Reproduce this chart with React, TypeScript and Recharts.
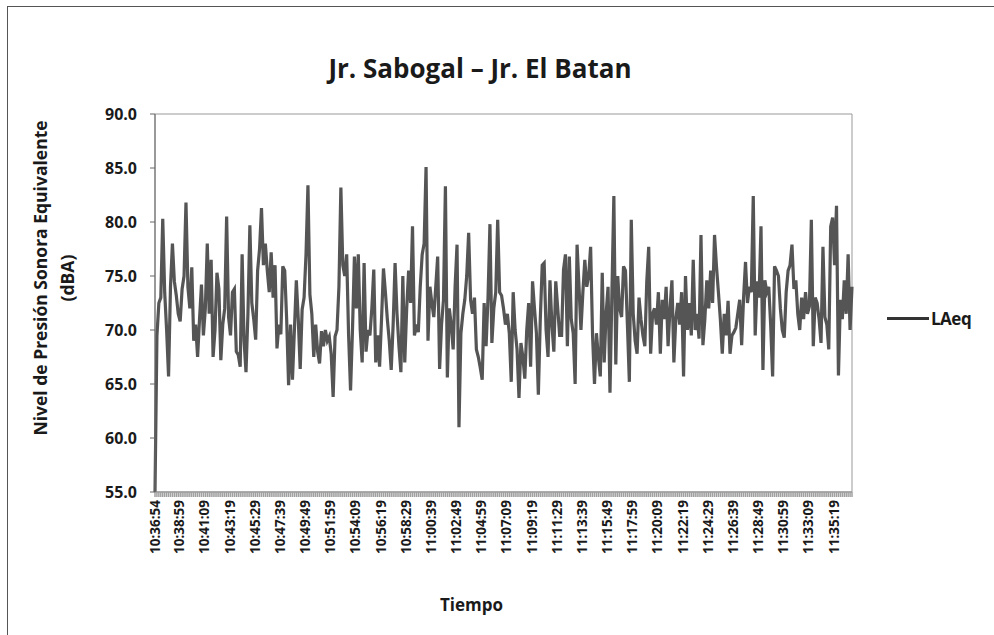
import {
  LineChart,
  Line,
  XAxis,
  YAxis,
  Legend,
  ReferenceArea,
} from "recharts";

// LAeq every 10 s
const START = "10:36:54";
const STEP_S = 10;

const LAEQ = [
  55.0, 69.5, 72.5, 73.0, 80.3, 73.5, 70.0, 65.7, 74.0, 78.0,
  74.5, 73.2, 71.5, 70.8, 73.8, 75.0, 81.8, 74.0, 72.0, 75.8,
  69.0, 70.5, 67.5, 71.0, 74.2, 69.5, 72.0, 78.0, 71.5, 76.5,
  67.5, 70.0, 75.3, 73.8, 67.2, 70.5, 72.0, 80.5, 71.2, 69.5,
  73.5, 73.8, 68.0, 67.7, 66.6, 77.0, 69.0, 66.1, 71.5, 79.7,
  72.5, 71.0, 69.1, 75.5, 77.5, 81.3, 76.0, 78.0, 75.5, 73.5,
  77.2, 73.0, 76.0, 68.3, 70.5, 69.6, 75.9, 75.5, 71.0, 64.9,
  70.5, 65.4, 70.0, 74.6, 71.0, 66.4, 71.9, 73.0, 77.0, 83.4,
  73.3, 71.5, 67.5, 70.5, 68.0, 66.9, 69.9, 68.5, 70.0, 69.0,
  69.4, 67.8, 63.8, 69.4, 70.0, 74.0, 83.2, 76.0, 75.0, 77.0,
  69.5, 64.4, 70.0, 76.8, 72.0, 77.0, 70.0, 67.0, 76.2, 68.0,
  70.0, 69.5, 72.0, 75.6, 67.0, 69.5, 66.6, 71.0, 75.7, 73.5,
  71.0, 69.0, 66.3, 70.5, 76.2, 71.5, 68.5, 66.1, 75.0, 67.0,
  72.0, 75.5, 72.5, 79.6, 69.5, 70.5, 69.8, 74.0, 77.0, 78.0,
  85.1, 69.0, 74.0, 72.5, 71.2, 74.0, 76.8, 66.4, 70.5, 72.8,
  83.3, 65.6, 72.0, 70.5, 68.2, 74.0, 77.9, 61.0, 69.7, 71.5,
  72.8, 75.0, 79.0, 72.8, 71.5, 73.0, 68.2, 67.5, 66.5, 65.4,
  72.5, 68.5, 73.0, 79.8, 68.8, 72.0, 73.5, 80.2, 73.5, 73.2,
  72.0, 70.5, 71.5, 69.7, 65.2, 73.5, 70.0, 68.2, 63.7, 68.8,
  67.5, 65.5, 70.0, 72.5, 66.6, 74.5, 72.0, 69.7, 64.0, 71.0,
  76.0, 76.2, 70.0, 67.5, 74.6, 70.5, 68.0, 74.5, 72.0, 69.5,
  69.5, 75.6, 77.0, 68.5, 76.8, 71.0, 69.7, 65.0, 77.9, 74.0,
  70.0, 73.5, 76.5, 74.0, 75.0, 77.7, 69.5, 65.0, 69.7, 67.5,
  65.7, 75.3, 67.0, 71.5, 74.0, 64.2, 73.5, 82.4, 66.8, 75.0,
  72.0, 71.2, 75.9, 75.5, 70.5, 65.2, 80.2, 71.5, 69.0, 67.8,
  73.0, 71.0, 69.5, 68.5, 74.5, 77.7, 67.8, 71.5, 72.0, 70.5,
  73.5, 67.8, 72.8, 71.0, 74.0, 68.5, 72.0, 74.6, 67.0, 71.0,
  72.5, 70.5, 73.5, 65.7, 75.0, 70.0, 72.5, 69.5, 76.5, 70.0,
  71.5, 69.2, 78.8, 68.6, 71.0, 74.6, 72.0, 75.5, 72.5, 78.8,
  75.9, 73.5, 71.0, 67.8, 71.5, 69.5, 72.7, 67.8, 69.5, 69.8,
  70.2, 71.5, 72.8, 68.6, 73.0, 76.3, 72.5, 74.0, 73.5, 82.4,
  69.5, 74.5, 73.0, 79.6, 66.3, 74.6, 73.5, 74.0, 70.5, 65.7,
  75.9, 75.5, 75.0, 72.0, 70.0, 69.3, 73.5, 75.5, 76.0, 77.9,
  73.8, 74.6, 71.5, 70.0, 73.0, 71.0, 73.5, 71.5, 72.2, 80.2,
  68.5, 73.0, 72.5, 71.0, 68.8, 77.7, 71.2, 70.5, 68.2, 79.6,
  80.4, 76.0, 81.5, 65.8, 72.8, 71.0, 74.6, 71.5, 77.0, 70.0,
  74.0,
];

const TICK_LABELS = [
  "10:36:54", "10:38:59", "10:41:09", "10:43:19", "10:45:29", "10:47:39",
  "10:49:49", "10:51:59", "10:54:09", "10:56:19", "10:58:29", "11:00:39",
  "11:02:49", "11:04:59", "11:07:09", "11:09:19", "11:11:29", "11:13:39",
  "11:15:49", "11:17:59", "11:20:09", "11:22:19", "11:24:29", "11:26:39",
  "11:28:49", "11:30:59", "11:33:09", "11:35:19",
];

const Y_TICKS = [55, 60, 65, 70, 75, 80, 85, 90];

const FONT = "'Open Sans', Lato, sans-serif";
const INK = "#1a1a1a";

const toSec = (s: string) => {
  const [h, m, sec] = s.split(":").map(Number);
  return h * 3600 + m * 60 + sec;
};
const pad = (n: number) => String(n).padStart(2, "0");
const toClock = (t: number) =>
  `${Math.floor(t / 3600)}:${pad(Math.floor((t % 3600) / 60))}:${pad(t % 60)}`;

const T0 = toSec(START);
const data = LAEQ.map((v, i) => ({ t: T0 + i * STEP_S, laeq: v }));
const DOMAIN: [number, number] = [T0, T0 + (LAEQ.length - 1) * STEP_S];
const labelTicks = TICK_LABELS.map(toSec);
const denseTicks = data.map(d => d.t);

const TimeTick = ({ x, y, payload }: any) => (
  <text
    x={x}
    y={y}
    transform={`rotate(-90, ${x}, ${y})`}
    textAnchor="end"
    dominantBaseline="central"
    fontSize={13.5}
    fontWeight={700}
    fontFamily={FONT}
    fill={INK}
  >
    {toClock(payload.value)}
  </text>
);

const YTitle = ({ viewBox }: any) => {
  const cy = viewBox.y + viewBox.height / 2 - 25;
  return (
    <g fontFamily={FONT} fontSize={17.5} fontWeight={700} fill={INK} textAnchor="middle">
      <text x={40} y={cy} dominantBaseline="central" transform={`rotate(-90, 40, ${cy})`}>
        Nivel de Presión Sonora Equivalente
      </text>
      <text x={67} y={cy} dominantBaseline="central" transform={`rotate(-90, 67, ${cy})`}>
        (dBA)
      </text>
    </g>
  );
};

const XTitle = ({ viewBox }: any) => (
  <text
    x={viewBox.x + viewBox.width / 2 - 32}
    y={viewBox.y + 111}
    textAnchor="middle"
    dominantBaseline="central"
    fontFamily={FONT}
    fontSize={17}
    fontWeight={700}
    fill={INK}
  >
    Tiempo
  </text>
);

const LegendBox = () => (
  <div style={{ display: "flex", alignItems: "center", fontFamily: FONT }}>
    <span style={{ display: "inline-block", width: 42, height: 3, background: "#333" }} />
    <span style={{ marginLeft: 2, fontSize: 17, fontWeight: 700, color: INK, letterSpacing: -0.5 }}>
      LAeq
    </span>
  </div>
);

export default function App() {
  return (
    <div style={{ position: "absolute", left: 0, top: 0, width: 994, height: 635, background: "#fff" }}>
      <div
        style={{
          position: "absolute",
          left: 7,
          top: 6,
          right: 0,
          bottom: 0,
          borderLeft: "1.5px solid #555",
          borderTop: "1.5px solid #555",
        }}
      />
      <div
        style={{
          position: "absolute",
          left: 230,
          top: 51,
          width: 500,
          lineHeight: "34px",
          textAlign: "center",
          fontFamily: FONT,
          fontSize: 26,
          fontWeight: 700,
          color: INK,
        }}
      >
        Jr. Sabogal – Jr. El Batan
      </div>
      <LineChart width={994} height={635} data={data} margin={{ top: 114, right: 142, bottom: 0, left: 0 }}>
        <XAxis
          xAxisId="dense"
          dataKey="t"
          type="number"
          domain={DOMAIN}
          ticks={denseTicks}
          interval={0}
          height={1}
          tickSize={5}
          tickFormatter={() => ""}
          axisLine={{ stroke: "#8a8a8a" }}
          tickLine={{ stroke: "#a0a0a0", strokeWidth: 1.5 }}
        />
        <XAxis
          xAxisId="time"
          dataKey="t"
          type="number"
          domain={DOMAIN}
          ticks={labelTicks}
          interval={0}
          height={142}
          axisLine={false}
          tickLine={false}
          tickSize={0}
          tickMargin={7}
          tick={<TimeTick />}
          label={{ content: XTitle }}
        />
        <YAxis
          domain={[55, 90]}
          ticks={Y_TICKS}
          interval={0}
          width={155}
          tickSize={5}
          tickMargin={13}
          stroke="#666"
          tickFormatter={(v: number) => v.toFixed(1)}
          tick={{ fontSize: 16, fontWeight: 700, fill: INK, fontFamily: FONT }}
          label={{ content: YTitle }}
        />
        <ReferenceArea
          xAxisId="time"
          x1={DOMAIN[0]}
          x2={DOMAIN[1]}
          y1={55}
          y2={90}
          fill="none"
          stroke="#999"
          strokeWidth={1}
        />
        <Legend
          layout="vertical"
          align="center"
          verticalAlign="middle"
          content={LegendBox}
          wrapperStyle={{ left: 887, top: 307, width: 100 }}
        />
        <Line
          xAxisId="time"
          type="linear"
          dataKey="laeq"
          name="LAeq"
          stroke="#555"
          strokeWidth={3.2}
          dot={false}
          isAnimationActive={false}
        />
      </LineChart>
    </div>
  );
}
